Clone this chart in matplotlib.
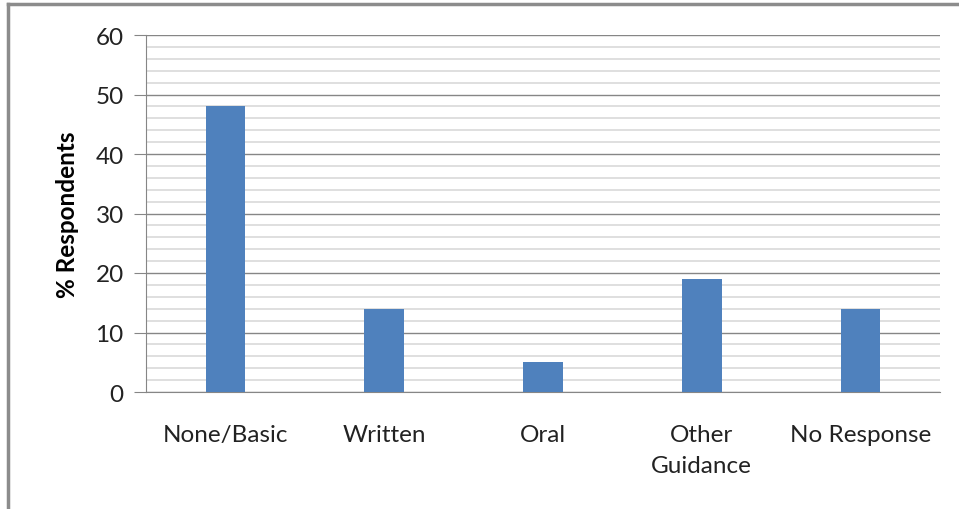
import matplotlib
matplotlib.use('Agg')
import matplotlib.pyplot as plt
from matplotlib.lines import Line2D
from matplotlib.ticker import MultipleLocator

categories = ['None/Basic', 'Written', 'Oral', 'Other\nGuidance', 'No Response']
values = [48, 14, 5, 19, 14]
y_ticks = [0, 10, 20, 30, 40, 50, 60]

plt.rcParams['font.family'] = ['Lato', 'DejaVu Sans']

W, H = 959, 510
fig = plt.figure(figsize=(W / 100, H / 100), dpi=100)
ax = fig.add_axes([146 / W, 1 - 393 / H, (940 - 146) / W, (393 - 36) / H])

x = list(range(len(categories)))
ax.bar(x, values, width=0.25, color='#4F81BD', zorder=3)

ax.set_xlim(-0.5, len(categories) - 0.5)
ax.set_ylim(0, 60)
ax.set_yticks(y_ticks)
ax.yaxis.set_minor_locator(MultipleLocator(2))
ax.grid(which='minor', axis='y', color='#D9D9D9', lw=1.2, zorder=0)
ax.grid(which='major', axis='y', color='#868686', lw=1.0, zorder=1)

ax.set_xticks(x)
ax.set_xticklabels(categories, fontsize=17.5, color='#222222', linespacing=1.6)
ax.tick_params(axis='x', length=0, pad=23)
ax.tick_params(axis='y', which='major', length=9, color='#868686',
               labelsize=17.5, labelcolor='#222222', pad=7)
ax.tick_params(axis='y', which='minor', length=0)

for s in ['top', 'right']:
    ax.spines[s].set_visible(False)
for s in ['left', 'bottom']:
    ax.spines[s].set_color('#868686')

ax.set_ylabel('% Respondents', fontsize=17.5, fontweight='bold', labelpad=12)

# outer chart frame
fig.add_artist(Line2D([8 / W, 1], [1 - 5 / H, 1 - 5 / H], color='#8C8C8C', lw=2.5))
fig.add_artist(Line2D([8 / W, 8 / W], [0, 1 - 5 / H], color='#8C8C8C', lw=2.5))

fig.savefig('out.png', dpi=100)
